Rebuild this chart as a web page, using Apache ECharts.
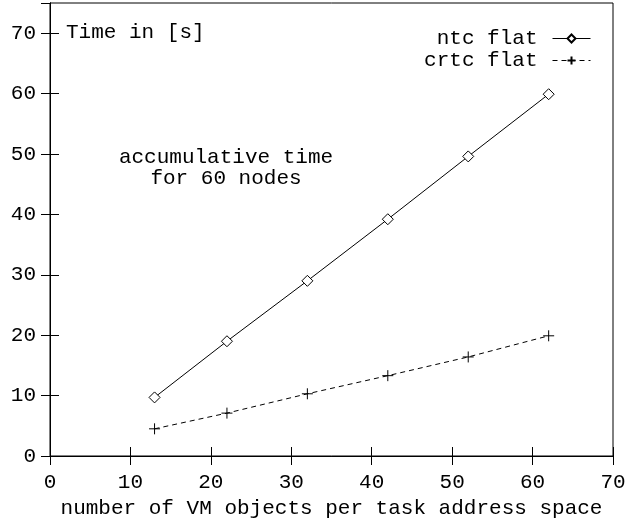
<!DOCTYPE html>
<html>
<head>
<meta charset="utf-8">
<script src="https://cdn.jsdelivr.net/npm/echarts@6/dist/echarts.min.js"></script>
<style>html,body{margin:0;padding:0;background:#fff}#c{width:634px;height:518px}</style>
</head>
<body>
<div id="c"></div>
<script>
const xValues = [13, 22, 32, 42, 52, 62];
const ntcFlat = [9.7, 19.0, 29.0, 39.2, 49.6, 59.9];
const crtcFlat = [4.5, 7.1, 10.3, 13.3, 16.4, 19.9];
const seriesNames = ['ntc flat', 'crtc flat'];
const xAxisTitle = 'number of VM objects per task address space';
const yAxisTitle = 'Time in [s]';
const noteLines = ['accumulative time', 'for 60 nodes'];

const FONT = 'Liberation Mono';
const FS = 21;
const chart = echarts.init(document.getElementById('c'), null, {renderer: 'canvas'});
const pair = (xs, ys) => xs.map((x, i) => [x, ys[i]]);
const plusPath = 'path://M0,5L10,5M5,0L5,10';
const diamondPath = 'path://M5,0L10,5L5,10L0,5Z';

const axisCommon = {
  axisLine: {show: true, lineStyle: {color: '#000', width: 1}},
  axisTick: {show: true, inside: true, length: 9, lineStyle: {color: '#000'}},
  splitLine: {show: false}
};

chart.setOption({
  animation: false,
  backgroundColor: '#fff',
  textStyle: {fontFamily: FONT},
  grid: {left: 50, right: 21, top: 3, bottom: 62, outerBoundsMode: 'none', containLabel: false,
         show: true, borderColor: '#000', borderWidth: 1},
  legend: {
    orient: 'vertical', right: 43, top: 28, align: 'right', padding: 0,
    itemWidth: 38, itemHeight: 10, itemGap: 1,
    lineStyle: {width: 1},
    textStyle: {fontFamily: FONT, fontSize: FS, color: '#000', padding: [0, 10, 0, 0]},
    data: seriesNames
  },
  xAxis: [
    Object.assign({}, axisCommon, {
      type: 'value', min: 0, max: 70, interval: 10, position: 'bottom',
      name: xAxisTitle, nameLocation: 'middle', nameGap: 39,
      nameTextStyle: {fontFamily: FONT, fontSize: FS, color: '#000'},
      axisLabel: {margin: 16, fontFamily: FONT, fontSize: FS, color: '#000'}
    }),
    Object.assign({}, axisCommon, {
      type: 'value', min: 0, max: 70, interval: 10, position: 'top',
      axisLabel: {show: false}
    })
  ],
  yAxis: [
    Object.assign({}, axisCommon, {
      type: 'value', min: 0, max: 75, interval: 10, position: 'left',
      axisLabel: {margin: 14, fontFamily: FONT, fontSize: FS, color: '#000', showMaxLabel: false}
    }),
    Object.assign({}, axisCommon, {
      type: 'value', min: 0, max: 75, interval: 10, position: 'right',
      axisLabel: {show: false}
    })
  ],
  graphic: [
    {type: 'text', left: 66, top: 22, style: {text: yAxisTitle, font: FS + 'px "' + FONT + '"', fill: '#000'}},
    {type: 'text', x: 226, y: 157, style: {text: noteLines[0], font: FS + 'px "' + FONT + '"', fill: '#000', textAlign: 'center', textVerticalAlign: 'middle'}},
    {type: 'text', x: 226, y: 178, style: {text: noteLines[1], font: FS + 'px "' + FONT + '"', fill: '#000', textAlign: 'center', textVerticalAlign: 'middle'}}
  ],
  series: [
    {
      name: seriesNames[0], type: 'line', data: pair(xValues, ntcFlat),
      symbol: diamondPath, symbolSize: 11,
      lineStyle: {color: '#000', width: 1},
      itemStyle: {color: '#fff', borderColor: '#000', borderWidth: 1}
    },
    {
      name: seriesNames[1], type: 'line', data: pair(xValues, crtcFlat),
      symbol: plusPath, symbolSize: 11,
      lineStyle: {color: '#000', width: 1, type: [5, 4]},
      itemStyle: {color: 'none', borderColor: '#000', borderWidth: 1}
    }
  ]
});
</script>
</body>
</html>
